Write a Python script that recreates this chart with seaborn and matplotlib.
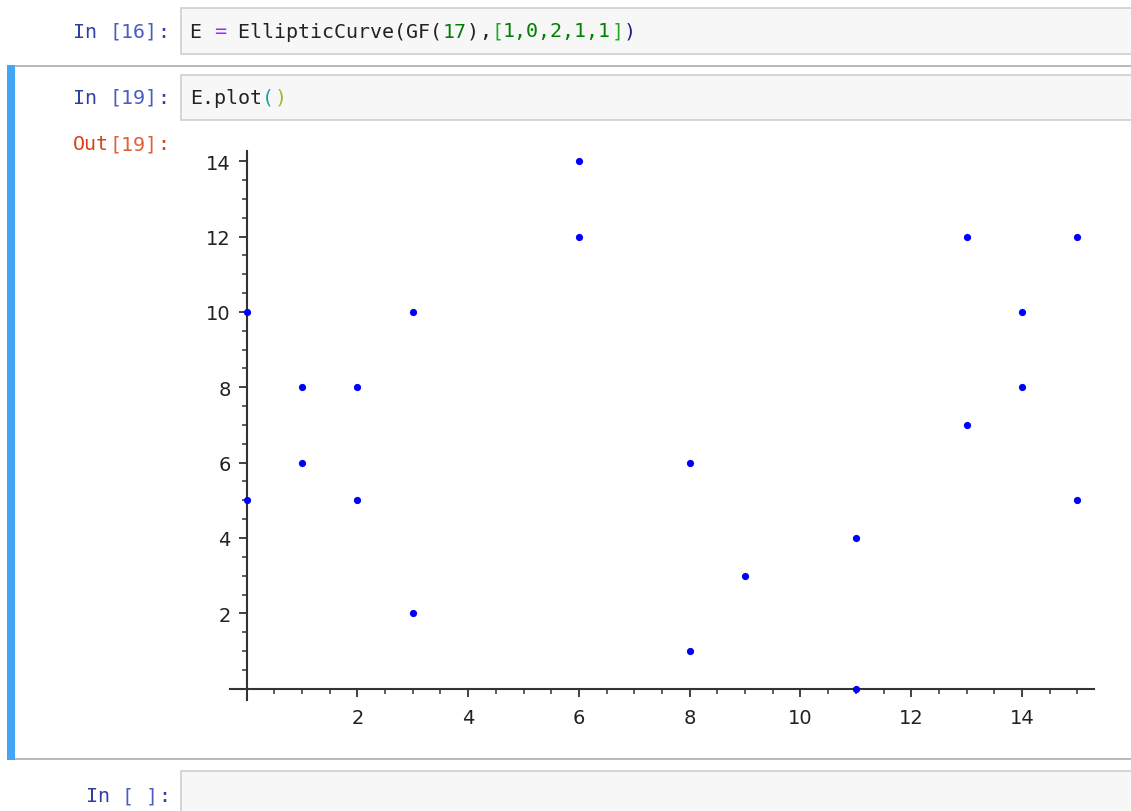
import matplotlib
matplotlib.use("Agg")
import matplotlib.pyplot as plt
import seaborn as sns
import pandas as pd
from matplotlib.patches import Rectangle
from matplotlib.ticker import MultipleLocator

# points of E(GF(17)) as drawn by E.plot()
x_vals = [0, 0, 1, 1, 2, 2, 3, 3, 6, 6, 8, 8, 9, 11, 11, 13, 13, 14, 14, 15, 15]
y_vals = [10, 5, 8, 6, 8, 5, 10, 2, 14, 12, 6, 1, 3, 4, 0, 12, 7, 10, 8, 12, 5]
x_ticks = [2, 4, 6, 8, 10, 12, 14]
y_ticks = [2, 4, 6, 8, 10, 12, 14]

df = pd.DataFrame({"x": x_vals, "y": y_vals})

sns.set_style("ticks")
fig = plt.figure(figsize=(11.31, 8.12), dpi=100)

# notebook background drawn in pixel coords
bg = fig.add_axes([0, 0, 1, 1])
bg.set_xlim(0, 1131)
bg.set_ylim(812, 0)
bg.axis("off")

mono = "DejaVu Sans Mono"
fs = 14.4
cw = 0.6021 * fs * 100 / 72  # advance of one monospace char in px
prompt_blue = "#303f9f"
out_red = "#d84315"

bg.add_patch(Rectangle((180.5, 8.5), 980, 46, fc="#f7f7f7", ec="#cfcfcf", lw=1.2))
bg.add_patch(Rectangle((7.5, 66.5), 1140, 693.5, fc="white", ec="#ababab", lw=1.2))
bg.add_patch(Rectangle((7, 66), 8, 694.5, fc="#42a5f5", ec="none"))
bg.add_patch(Rectangle((180.5, 75.5), 980, 45, fc="#f7f7f7", ec="#cfcfcf", lw=1.2))
bg.add_patch(Rectangle((180.5, 772), 980, 60, fc="#f7f7f7", ec="#cfcfcf", lw=1.2))


def code(x0, y, parts):
    i = 0
    for txt, col in parts:
        bg.text(x0 + i * cw, y, txt, color=col, family=mono, fontsize=fs,
                va="center", ha="left")
        i += len(txt)


code(73, 32, [("In ", prompt_blue), ("[16]", "#4a5cc0"), (":", prompt_blue)])
code(190, 32, [("E ", "#222"), ("=", "#aa22ff"), (" EllipticCurve(GF(", "#222"),
               ("17", "#008000"), (")", "#222"), (",", "#222"), ("[", "#22aa22"),
               ("1,0,2,1,1", "#008000"), ("]", "#22aa22"), (")", "#1a237e")])
code(73, 98, [("In ", prompt_blue), ("[19]", "#4a5cc0"), (":", prompt_blue)])
code(190, 98, [("E.plot", "#222"), ("(", "#20a0a0"), (")", "#9aba30")])
code(73, 145, [("Out", out_red), ("[19]", "#e0603a"), (":", out_red)])
code(86, 797, [("In ", prompt_blue), ("[ ]", "#4a5cc0"), (":", prompt_blue)])

# the plot itself
ax = fig.add_axes([0.2034, 0.1367, 0.7639, 0.6765])
ax.set_facecolor("none")
sns.scatterplot(data=df, x="x", y="y", ax=ax, color="#0000ff", s=27,
                linewidth=0, clip_on=False, zorder=5)
ax.set_xlim(-0.3, 15.3)
ax.set_ylim(-0.3, 14.28)
ax.set_xlabel("")
ax.set_ylabel("")

for s in ["top", "right"]:
    ax.spines[s].set_visible(False)
for s in ["left", "bottom"]:
    ax.spines[s].set_position(("data", 0))
    ax.spines[s].set_color("#333333")
    ax.spines[s].set_linewidth(1.5)

ax.set_xticks(x_ticks)
ax.set_yticks(y_ticks)
ax.xaxis.set_minor_locator(MultipleLocator(0.5))
ax.yaxis.set_minor_locator(MultipleLocator(0.5))
ax.tick_params(which="major", length=6, width=1.3, color="#333333",
               labelsize=14, labelcolor="#222222")
ax.tick_params(which="minor", length=3.5, width=1.1, color="#333333")
ax.tick_params(axis="x", which="major", pad=8)
ax.tick_params(axis="y", which="major", pad=5.5)

plt.savefig("out.png", dpi=100)
